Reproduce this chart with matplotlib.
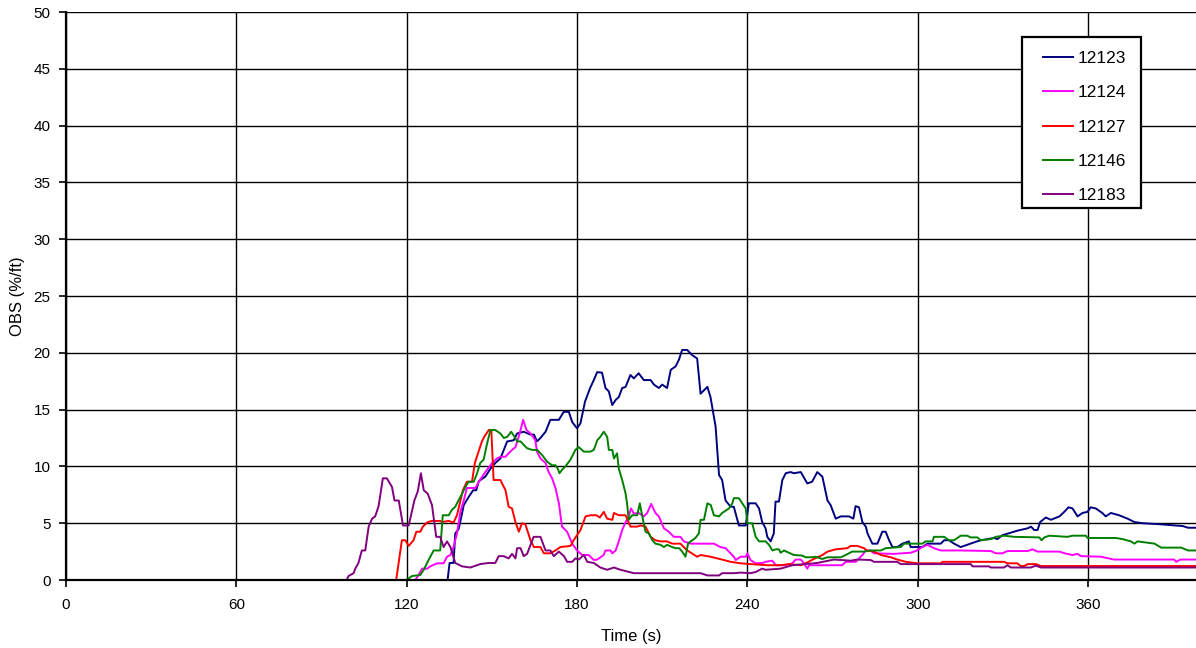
import matplotlib
matplotlib.use("Agg")
import matplotlib.pyplot as plt
from matplotlib.patches import Rectangle

plt.rcParams['font.family'] = ['Liberation Sans', 'DejaVu Sans']

# OBS readings (time in s, OBS in %/ft) for each sensor
obs_12123 = [(134.4, 0.0), (135.1, 1.5), (136.5, 1.5), (137.1, 4.1), (138.3, 4.5), (139.1, 5.4),
             (140.1, 6.6), (141.8, 7.3), (143.4, 7.9), (144.5, 7.9), (145.4, 8.7), (147.7, 9.1),
             (149.5, 9.8), (151.2, 10.3), (153.0, 10.7), (155.4, 12.2), (157.7, 12.3), (158.9, 12.9),
             (161.2, 13.05), (163.6, 12.8), (164.8, 12.8), (165.9, 12.2), (167.1, 12.5), (168.9, 13.05),
             (170.6, 14.1), (173.6, 14.1), (175.3, 14.8), (177.1, 14.8), (178.3, 13.9), (180.0, 13.35),
             (181.2, 13.8), (182.8, 15.7), (184.6, 16.9), (185.9, 17.6), (187.1, 18.3), (188.8, 18.25),
             (190.0, 16.9), (191.2, 16.6), (192.4, 15.4), (193.6, 15.85), (194.7, 16.1), (195.9, 16.9),
             (197.1, 17.0), (198.8, 18.05), (200.0, 17.75), (201.7, 18.2), (203.5, 17.6), (205.9, 17.6),
             (207.1, 17.2), (208.8, 16.9), (210.0, 17.2), (211.7, 16.9), (213.0, 18.5), (214.7, 18.8),
             (215.9, 19.4), (217.0, 20.25), (218.8, 20.25), (220.5, 19.8), (222.3, 19.5), (223.5, 16.4),
             (225.9, 17.0), (227.0, 16.1), (228.8, 13.5), (230.0, 9.25), (231.1, 8.8), (232.3, 7.0),
             (234.1, 6.45), (235.2, 6.45), (237.0, 4.8), (239.4, 4.8), (240.5, 6.75), (242.9, 6.75),
             (244.1, 6.3), (245.2, 5.1), (246.4, 4.55), (247.0, 3.8), (248.2, 3.4), (249.3, 4.1),
             (249.9, 6.9), (251.1, 6.9), (252.3, 8.8), (253.5, 9.4), (255.2, 9.5), (256.4, 9.4),
             (258.8, 9.5), (261.1, 8.5), (262.8, 8.65), (264.6, 9.5), (266.4, 9.1), (268.2, 7.0),
             (269.3, 6.6), (271.1, 5.4), (272.9, 5.6), (275.8, 5.6), (277.3, 5.4), (278.1, 6.5),
             (279.3, 6.4), (280.5, 5.1), (281.7, 4.7), (282.3, 4.1), (284.0, 3.2), (285.8, 3.2),
             (287.5, 4.25), (288.7, 4.25), (289.9, 3.5), (291.1, 2.9), (292.8, 2.9), (294.6, 3.2),
             (296.9, 3.4), (297.5, 2.9), (301.6, 2.9), (303.4, 3.2), (308.1, 3.2), (309.3, 3.5),
             (311.0, 3.5), (312.8, 3.2), (315.1, 2.9), (317.4, 3.1), (320.9, 3.4), (322.3, 3.5),
             (326.9, 3.7), (328.0, 3.6), (329.9, 3.95), (335.2, 4.35), (338.7, 4.55), (339.9, 4.7),
             (341.0, 4.4), (342.2, 4.4), (343.1, 5.1), (345.1, 5.5), (346.9, 5.3), (349.9, 5.6),
             (351.6, 6.0), (353.1, 6.4), (354.5, 6.3), (356.3, 5.6), (358.0, 5.9), (359.8, 6.0),
             (360.9, 6.4), (362.7, 6.3), (365.0, 5.9), (366.2, 5.6), (368.0, 5.9), (370.9, 5.7),
             (373.9, 5.4), (376.3, 5.1), (379.2, 5.0), (385.7, 4.9), (393.3, 4.75), (395.2, 4.6),
             (398.4, 4.6)]

obs_12124 = [(123.0, 0.0), (124.2, 0.44), (125.4, 1.0), (127.2, 1.0), (128.3, 1.2), (130.7, 1.47),
             (133.0, 1.47), (134.2, 2.05), (135.4, 2.2), (136.5, 2.9), (137.7, 4.1), (138.9, 6.0),
             (140.1, 7.0), (141.2, 8.1), (144.2, 8.1), (145.4, 8.65), (147.7, 9.5), (150.1, 10.3),
             (151.8, 10.7), (153.0, 10.85), (154.8, 10.85), (155.9, 11.15), (157.1, 11.45), (158.3, 11.7),
             (159.8, 12.9), (161.0, 14.1), (162.2, 13.2), (163.6, 12.9), (165.3, 12.3), (165.9, 11.3),
             (167.1, 10.7), (168.9, 10.3), (170.0, 9.5), (171.2, 8.95), (172.4, 8.1), (173.6, 6.75),
             (174.7, 4.7), (176.5, 4.25), (178.3, 3.2), (180.0, 2.6), (181.8, 2.2), (184.1, 2.2),
             (185.9, 1.76), (187.1, 1.8), (189.4, 2.2), (190.0, 2.6), (191.8, 2.6), (192.4, 2.35),
             (193.6, 2.6), (194.7, 3.4), (195.9, 4.4), (197.1, 5.1), (198.2, 5.6), (199.0, 6.3),
             (200.0, 5.85), (201.7, 5.9), (203.5, 5.6), (204.7, 5.9), (206.1, 6.7), (207.6, 5.9),
             (208.8, 5.6), (210.6, 4.55), (212.3, 4.25), (214.1, 3.8), (216.4, 3.8), (217.6, 3.4),
             (220.0, 3.2), (228.2, 3.2), (230.5, 2.9), (232.3, 2.8), (233.5, 2.5), (235.2, 2.05),
             (235.9, 1.76), (237.6, 2.05), (239.4, 2.05), (240.0, 2.35), (241.1, 1.76), (242.9, 1.47),
             (245.3, 1.5), (246.4, 1.6), (248.8, 1.7), (250.0, 1.3), (253.5, 1.3), (255.8, 1.47),
             (257.0, 1.8), (258.8, 1.8), (259.9, 1.47), (261.1, 1.0), (261.7, 1.3), (273.4, 1.3),
             (274.6, 1.6), (278.2, 1.6), (279.3, 1.9), (280.5, 2.2), (281.7, 2.6), (283.4, 2.6),
             (284.6, 2.35), (291.6, 2.3), (297.5, 2.4), (299.3, 2.55), (301.6, 2.9), (303.4, 3.1),
             (305.7, 2.8), (308.1, 2.6), (315.1, 2.6), (325.7, 2.55), (327.5, 2.35), (329.8, 2.35),
             (331.6, 2.55), (338.7, 2.55), (340.4, 2.7), (342.2, 2.5), (349.9, 2.5), (351.7, 2.35),
             (354.5, 2.2), (356.3, 2.3), (357.5, 2.1), (364.5, 2.05), (369.2, 1.8), (390.3, 1.8),
             (391.0, 1.6), (392.5, 1.8), (398.4, 1.8)]

obs_12127 = [(116.3, 0.0), (118.3, 3.5), (119.5, 3.5), (120.7, 3.0), (122.4, 3.5), (123.4, 4.25),
             (124.8, 4.25), (125.7, 4.7), (127.4, 5.1), (128.9, 5.2), (131.8, 5.2), (132.4, 5.1),
             (134.8, 5.2), (136.5, 5.05), (137.7, 5.7), (138.7, 6.75), (139.8, 7.9), (141.2, 8.65),
             (143.0, 8.65), (144.0, 10.3), (145.3, 11.3), (146.5, 12.2), (147.3, 12.6), (148.9, 13.2),
             (149.8, 13.2), (150.6, 8.8), (153.0, 8.8), (154.8, 7.9), (155.9, 6.45), (157.1, 6.3),
             (158.3, 5.1), (159.5, 4.25), (160.6, 5.0), (161.8, 4.9), (163.6, 3.5), (164.8, 2.9),
             (167.1, 2.9), (168.3, 2.35), (170.6, 2.35), (172.4, 2.6), (174.1, 2.9), (177.7, 3.0),
             (178.8, 3.5), (181.2, 4.4), (183.0, 5.6), (184.7, 5.7), (186.8, 5.7), (188.0, 5.5),
             (189.4, 6.0), (190.6, 5.4), (192.4, 5.3), (193.0, 5.9), (194.7, 5.7), (197.1, 5.7),
             (198.8, 4.7), (201.2, 4.7), (202.4, 4.8), (204.1, 4.7), (205.9, 3.8), (207.6, 3.5),
             (209.4, 3.4), (211.7, 3.4), (213.5, 3.2), (216.4, 3.2), (218.8, 2.6), (222.3, 2.05),
             (223.5, 2.2), (227.0, 2.05), (229.4, 1.9), (231.7, 1.76), (234.1, 1.6), (237.6, 1.47),
             (241.1, 1.4), (247.0, 1.3), (251.7, 1.3), (254.6, 1.4), (258.9, 1.3), (261.1, 1.55),
             (263.4, 1.85), (266.4, 2.2), (268.2, 2.5), (271.1, 2.7), (275.2, 2.8), (276.4, 3.0),
             (278.7, 3.0), (281.1, 2.8), (282.0, 2.6), (284.6, 2.5), (287.0, 2.2), (290.5, 2.0),
             (292.8, 1.8), (295.8, 1.6), (299.9, 1.47), (308.1, 1.47), (308.7, 1.6), (330.4, 1.6),
             (331.6, 1.47), (335.0, 1.47), (336.3, 1.23), (337.5, 1.23), (338.7, 1.4), (341.6, 1.4),
             (343.4, 1.23), (398.4, 1.23)]

obs_12146 = [(120.1, 0.05), (121.9, 0.35), (124.8, 0.44), (126.0, 0.9), (127.7, 1.76), (129.5, 2.6),
             (131.8, 2.6), (132.2, 4.0), (132.7, 5.7), (134.8, 5.7), (136.0, 6.2), (137.1, 6.45),
             (137.7, 6.75), (138.9, 7.3), (140.7, 8.2), (141.8, 8.65), (143.6, 8.65), (144.8, 9.4),
             (145.9, 10.3), (147.1, 10.6), (148.3, 12.0), (149.5, 13.2), (151.2, 13.2), (153.0, 12.9),
             (154.2, 12.5), (155.4, 12.6), (156.8, 13.05), (158.0, 12.6), (158.9, 12.2), (160.1, 12.2),
             (161.2, 11.9), (162.4, 11.6), (164.2, 11.45), (166.0, 11.45), (167.7, 11.0), (169.5, 10.4),
             (171.2, 10.1), (172.4, 10.1), (173.2, 9.8), (173.8, 9.4), (174.7, 9.7), (175.9, 10.0),
             (177.7, 10.6), (179.4, 11.45), (180.6, 11.7), (182.4, 11.3), (184.7, 11.3), (185.9, 11.45),
             (187.1, 12.3), (188.2, 12.6), (189.4, 13.05), (190.6, 12.6), (191.2, 11.45), (192.4, 11.45),
             (193.0, 10.7), (194.1, 11.15), (194.7, 9.8), (195.9, 8.8), (197.1, 7.6), (197.6, 6.75),
             (198.2, 5.3), (199.4, 5.7), (201.2, 5.7), (202.1, 6.75), (202.9, 5.7), (204.1, 4.25),
             (205.3, 4.1), (206.5, 3.5), (207.6, 3.2), (209.4, 3.1), (210.6, 2.9), (211.7, 3.1),
             (213.5, 2.9), (214.7, 2.8), (216.0, 2.8), (217.0, 2.5), (218.2, 2.05), (219.1, 3.2),
             (220.0, 3.4), (221.7, 3.7), (222.9, 4.1), (223.5, 5.3), (224.7, 5.3), (225.9, 6.75),
             (227.1, 6.6), (228.2, 5.7), (230.0, 5.6), (231.1, 5.9), (233.5, 6.3), (234.7, 6.75),
             (235.2, 7.2), (237.0, 7.2), (238.2, 6.75), (239.4, 6.3), (240.0, 5.0), (241.7, 5.0),
             (242.9, 3.8), (244.1, 3.4), (246.4, 3.4), (247.6, 3.1), (248.8, 2.6), (250.0, 2.7),
             (251.1, 2.7), (251.7, 2.4), (252.9, 2.6), (254.6, 2.4), (256.4, 2.2), (259.3, 2.15),
             (260.5, 2.0), (262.8, 2.0), (264.0, 2.05), (266.4, 1.85), (268.2, 2.0), (272.9, 2.0),
             (274.6, 2.2), (276.9, 2.5), (281.1, 2.5), (283.4, 2.6), (287.0, 2.6), (288.7, 2.8),
             (294.0, 2.9), (295.2, 3.2), (301.6, 3.2), (302.8, 3.4), (305.2, 3.4), (305.7, 3.8),
             (309.3, 3.8), (311.0, 3.5), (312.8, 3.5), (315.1, 3.9), (317.4, 3.9), (318.6, 3.75),
             (321.0, 3.75), (322.1, 3.5), (325.7, 3.6), (327.5, 3.8), (330.4, 3.9), (333.9, 3.8),
             (342.8, 3.75), (343.6, 3.5), (344.6, 3.75), (346.3, 3.9), (352.7, 3.8), (354.5, 3.9),
             (359.2, 3.9), (359.8, 3.7), (369.8, 3.7), (372.1, 3.6), (375.1, 3.4), (376.3, 3.2),
             (377.4, 3.4), (383.4, 3.2), (385.7, 2.85), (392.8, 2.85), (395.2, 2.6), (398.4, 2.6)]

obs_12183 = [(98.9, 0.0), (99.5, 0.35), (101.3, 0.6), (101.9, 1.0), (103.0, 1.5), (104.2, 2.6),
             (105.4, 2.6), (106.6, 4.7), (107.8, 5.4), (108.9, 5.6), (110.1, 6.5), (111.6, 8.95),
             (113.0, 8.95), (114.8, 8.2), (115.7, 7.0), (117.2, 7.0), (118.7, 4.8), (120.7, 4.8),
             (122.7, 7.0), (123.9, 7.8), (125.0, 9.4), (126.0, 7.9), (127.4, 7.6), (128.9, 6.6),
             (130.4, 3.8), (131.8, 3.8), (133.0, 2.9), (134.2, 3.4), (135.4, 2.9), (137.1, 1.5),
             (139.5, 1.2), (142.4, 1.1), (145.9, 1.4), (148.9, 1.5), (151.2, 1.5), (152.4, 2.1),
             (154.2, 2.1), (155.9, 1.9), (157.1, 2.3), (158.3, 1.9), (158.9, 2.8), (160.1, 2.8),
             (161.2, 2.1), (162.4, 2.3), (164.7, 3.8), (167.1, 3.8), (168.9, 2.6), (170.6, 2.6),
             (171.8, 2.1), (173.6, 2.5), (175.4, 2.1), (176.5, 1.6), (178.3, 1.6), (179.4, 1.9),
             (180.6, 1.8), (182.4, 2.2), (183.6, 1.6), (185.9, 1.5), (188.2, 1.1), (190.6, 0.9),
             (193.0, 1.1), (195.3, 0.9), (200.0, 0.6), (223.5, 0.6), (225.9, 0.4), (230.0, 0.4),
             (231.1, 0.6), (235.2, 0.6), (237.6, 0.65), (241.1, 0.6), (242.9, 0.7), (245.2, 1.0),
             (246.4, 0.9), (251.7, 1.0), (255.8, 1.3), (264.6, 1.5), (270.5, 1.8), (276.4, 1.7),
             (278.7, 1.8), (283.4, 1.76), (284.6, 1.6), (292.8, 1.6), (294.0, 1.4), (318.7, 1.4),
             (319.3, 1.2), (325.1, 1.2), (325.7, 1.1), (330.4, 1.1), (331.6, 1.3), (332.8, 1.1),
             (339.8, 1.1), (341.6, 1.26), (343.4, 1.1), (398.4, 1.1)]

series_labels = ["12123", "12124", "12127", "12146", "12183"]
series_data = [obs_12123, obs_12124, obs_12127, obs_12146, obs_12183]
series_colors = ["#000080", "#FF00FF", "#FF0000", "#008000", "#800080"]

x_ticks = [0, 60, 120, 180, 240, 300, 360]
y_ticks = list(range(0, 51, 5))

fig = plt.figure(figsize=(11.96, 6.48), dpi=100)
ax = fig.add_axes([66 / 1196, 68 / 648, 1130 / 1196, 568 / 648])

for label, data, color in zip(series_labels, series_data, series_colors):
    t = [p[0] for p in data]
    v = [p[1] for p in data]
    ax.plot(t, v, color=color, lw=1.4, label=label)

ax.set_xlim(0, 398.0)
ax.set_ylim(0, 50)
ax.set_xticks(x_ticks)
ax.set_yticks(y_ticks)
ax.grid(True, color="black", lw=1.0)
ax.set_axisbelow(True)

for side in ("top", "right"):
    ax.spines[side].set_visible(False)
for side in ("left", "bottom"):
    ax.spines[side].set_linewidth(1.6)
    ax.spines[side].set_color("black")

ax.tick_params(axis="both", direction="out", length=5, width=1.2, labelsize=11,
               colors="black")
ax.tick_params(axis="x", pad=8)
ax.tick_params(axis="y", pad=6)

ax.set_xlabel("Time (s)", fontsize=12, labelpad=12)
ax.set_ylabel("OBS (%/ft)", fontsize=12, labelpad=6)

# legend box: white panel with black border, entries placed inside it
ax.add_patch(Rectangle((0.846, 0.655), 0.1053, 0.301, transform=ax.transAxes,
                       facecolor="white", edgecolor="black", lw=1.6, zorder=4))
leg = ax.legend(loc="upper left", bbox_to_anchor=(0.8646, 0.9313), borderaxespad=0,
                fontsize=12.4, frameon=False, borderpad=0,
                handlelength=1.74, handletextpad=0.29, labelspacing=1.12)
leg.set_zorder(5)

fig.savefig("out.png", dpi=100)
